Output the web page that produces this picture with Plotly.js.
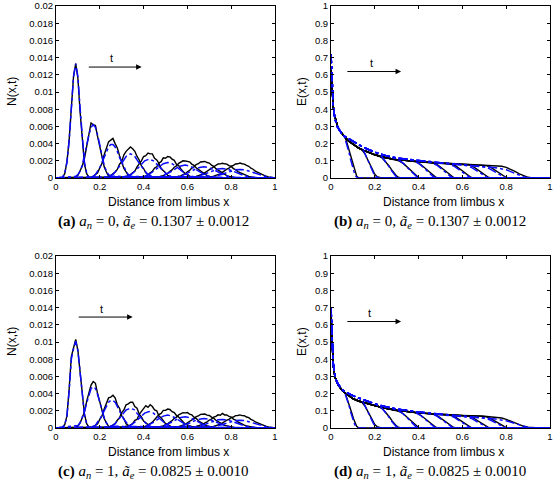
<!DOCTYPE html>
<html><head><meta charset="utf-8">
<script src="https://cdn.plot.ly/plotly-3.0.1.min.js"></script>
<style>html,body{margin:0;padding:0;background:#fff}#chart{width:553px;height:491px}</style>
</head><body><div id="chart"></div>
<script>
// ---------- tick labels ----------
const X_TICKS = [0, 0.2, 0.4, 0.6, 0.8, 1];
const X_TICKTEXT = ["0", "0.2", "0.4", "0.6", "0.8", "1"];
const N_TICKS = [0, 0.002, 0.004, 0.006, 0.008, 0.01, 0.012, 0.014, 0.016, 0.018, 0.02];
const N_TICKTEXT = ["0", "0.002", "0.004", "0.006", "0.008", "0.01", "0.012", "0.014", "0.016", "0.018", "0.02"];
const E_TICKS = [0, 0.1, 0.2, 0.3, 0.4, 0.5, 0.6, 0.7, 0.8, 0.9, 1];
const E_TICKTEXT = ["0", "0.1", "0.2", "0.3", "0.4", "0.5", "0.6", "0.7", "0.8", "0.9", "1"];

// ---------- N(x,t) curves: start x and sampling step of each curve ----------
const N_BLACK_X0 = [0.03, 0.09, 0.16, 0.23, 0.30, 0.38, 0.45, 0.53, 0.61, 0.69];
const N_BLACK_DX = 0.01;
const N_BLUE_X0 = [0.03, 0.09, 0.16, 0.23, 0.305, 0.37, 0.45, 0.535, 0.60, 0.68];
const N_BLUE_DX = [0.01, 0.01, 0.01, 0.01, 0.02, 0.02, 0.02, 0.02, 0.02, 0.02];

// panel (a): a_n = 0, stochastic (black)
const A_N_BLACK = [
  [0.0001,0.0005,0.0019,0.0044,0.0080,0.0118,0.0133,0.0116,0.0077,0.0042,0.0016,0.0005,0.0001],
  [0.0001,0.0003,0.0008,0.0014,0.0023,0.0036,0.0052,0.0064,0.0062,0.0061,0.0048,0.0036,0.0023,0.0013,0.0007,0.0002,0.0001],
  [0.0001,0.0002,0.0004,0.0006,0.0012,0.0017,0.0027,0.0034,0.0042,0.0044,0.0046,0.0040,0.0035,0.0026,0.0019,0.0011,0.0007,0.0003,0.0002,0.0001],
  [0.0000,0.0001,0.0003,0.0004,0.0007,0.0010,0.0016,0.0019,0.0027,0.0031,0.0033,0.0036,0.0034,0.0031,0.0025,0.0021,0.0014,0.0011,0.0006,0.0004,0.0002,0.0001,0.0000],
  [0,0.0001,0.0002,0.0002,0.0004,0.0007,0.0008,0.0013,0.0016,0.0020,0.0025,0.0026,0.0029,0.0028,0.0028,0.0023,0.0021,0.0017,0.0011,0.0009,0.0006,0.0003,0.0002,0.0001,0.0001,0],
  [0.00005,0.0001,0.00012,0.00026,0.00038,0.0006,0.00078,0.00115,0.0013,0.00175,0.0019,0.00235,0.0023,0.0025,0.00245,0.0022,0.00205,0.0016,0.00145,0.00105,0.0008,0.0005,0.00042,0.00022,0.00015,0.00007,0.00004],
  [0.00003,0.00008,0.0001,0.0002,0.00026,0.00042,0.00054,0.00078,0.00094,0.00125,0.0014,0.0017,0.00182,0.002,0.00197,0.0019,0.00188,0.00162,0.00148,0.00118,0.001,0.00072,0.00058,0.00038,0.00028,0.00017,0.00012,0.00006,0.00004],
  [0.00004,0.00008,0.0001,0.0002,0.00025,0.0004,0.0005,0.00073,0.00088,0.00115,0.0013,0.00156,0.00166,0.00186,0.00185,0.00192,0.0018,0.00174,0.0015,0.00135,0.00108,0.00092,0.00068,0.00054,0.00036,0.00028,0.00017,0.00013,0.00006,0.00004],
  [0.00004,0.00008,0.0001,0.00018,0.00024,0.00037,0.00045,0.00063,0.00076,0.00099,0.0011,0.00135,0.00144,0.00163,0.00164,0.00172,0.00165,0.00162,0.00144,0.00135,0.0011,0.00099,0.00075,0.00063,0.00045,0.00036,0.00024,0.00018,0.00011,0.00008,0.00004],
  [0.00005,0.0001,0.00013,0.00021,0.00027,0.0004,0.00049,0.00068,0.0008,0.00103,0.00114,0.00137,0.00146,0.00163,0.00165,0.00174,0.00166,0.00162,0.00146,0.00136,0.00114,0.00102,0.0008,0.00067,0.0005,0.00039,0.00027,0.0002,0.00013,0.00009,0.00005]
];
// panel (a): continuum model (blue)
const A_N_BLUE = [
  [0.0001,0.0006,0.0018,0.0043,0.0081,0.0118,0.0133,0.0118,0.0081,0.0043,0.0018,0.0006,0.0001],
  [0.0002,0.0004,0.0008,0.0015,0.0025,0.0038,0.0050,0.0059,0.0062,0.0059,0.0050,0.0038,0.0025,0.0015,0.0008,0.0004,0.0002],
  [0.0001,0.0002,0.0004,0.0008,0.0012,0.0018,0.0024,0.0031,0.0036,0.0039,0.0039,0.0036,0.0031,0.0024,0.0018,0.0012,0.0008,0.0004,0.0002,0.0001],
  [0.0001,0.0001,0.0003,0.0004,0.0007,0.0010,0.0013,0.0017,0.0021,0.0025,0.0027,0.0028,0.0027,0.0025,0.0021,0.0017,0.0013,0.0010,0.0007,0.0004,0.0003,0.0001,0.0001],
  [0.00006,0.00019,0.00045,0.0009,0.00148,0.0020,0.0022,0.0020,0.00148,0.0009,0.00045,0.00019,0.00006],
  [0.00004,0.0001,0.00024,0.0005,0.00088,0.00131,0.00166,0.0018,0.00166,0.00131,0.00088,0.0005,0.00024,0.0001,0.00004],
  [0.00005,0.00013,0.00027,0.0005,0.00081,0.00114,0.0014,0.0015,0.0014,0.00114,0.00081,0.0005,0.00027,0.00013,0.00005],
  [0.00006,0.00014,0.00028,0.00048,0.00075,0.00102,0.00122,0.0013,0.00122,0.00102,0.00075,0.00048,0.00028,0.00014,0.00006],
  [0.00003,0.00007,0.00015,0.00027,0.00045,0.00067,0.00088,0.00104,0.0011,0.00104,0.00088,0.00067,0.00045,0.00027,0.00015,0.00007,0.00003],
  [0.00004,0.00008,0.00015,0.00027,0.00044,0.00063,0.00081,0.00095,0.001,0.00095,0.00081,0.00063,0.00044,0.00027,0.00015,0.00008,0.00004]
];
// panel (c): a_n = 1, stochastic (black)
const C_N_BLACK = [
  [0.0001,0.0004,0.0014,0.0045,0.0083,0.0093,0.0103,0.0090,0.0063,0.0036,0.0016,0.0005,0.0001],
  [0.0001,0.0002,0.0006,0.0012,0.0019,0.0031,0.0042,0.0050,0.0054,0.0052,0.0040,0.0031,0.0020,0.0011,0.0006,0.0002,0.0001],
  [0.0001,0.0001,0.0003,0.0005,0.0010,0.0014,0.0022,0.0028,0.0035,0.0036,0.0038,0.0035,0.0027,0.0023,0.0014,0.0011,0.0005,0.0003,0.0001,0.0001],
  [0.00003,0.0001,0.0002,0.0004,0.0005,0.0009,0.0012,0.0018,0.0021,0.0027,0.0028,0.0030,0.0030,0.0025,0.0023,0.0016,0.0013,0.0008,0.0006,0.0003,0.0002,0.0001,0.00003],
  [0,0.0001,0.0002,0.0002,0.0004,0.0005,0.0009,0.0010,0.0016,0.0019,0.0023,0.0026,0.0024,0.0027,0.0025,0.0021,0.0020,0.0014,0.0012,0.0008,0.0005,0.0004,0.0002,0.0001,0.0001,0],
  [0.00004,0.00008,0.0001,0.00023,0.00033,0.0005,0.00068,0.001,0.0012,0.00155,0.0017,0.00205,0.00205,0.0022,0.00215,0.0019,0.0018,0.00145,0.00127,0.00093,0.00072,0.00045,0.00036,0.0002,0.00013,0.00006,0.00004],
  [0.00003,0.00007,0.00009,0.00018,0.00023,0.00038,0.00048,0.0007,0.00085,0.00112,0.00126,0.00154,0.00163,0.00178,0.00176,0.0018,0.00162,0.00153,0.00126,0.00112,0.00084,0.0007,0.00048,0.00037,0.00023,0.00017,0.00009,0.00007,0.00003],
  [0.00003,0.00007,0.00009,0.00016,0.00022,0.00034,0.00042,0.00061,0.00074,0.00096,0.00108,0.00132,0.0014,0.00158,0.00156,0.00162,0.0015,0.00146,0.00126,0.00114,0.0009,0.00078,0.00057,0.00045,0.0003,0.00024,0.00014,0.00011,0.00005,0.00004],
  [0.00004,0.00008,0.0001,0.00017,0.00023,0.00035,0.00042,0.00059,0.00071,0.00093,0.00104,0.00127,0.00135,0.00153,0.00148,0.0017,0.00152,0.00153,0.00134,0.00127,0.00104,0.00093,0.0007,0.00059,0.00042,0.00034,0.00023,0.00017,0.0001,0.00008,0.00004],
  [0.00004,0.00009,0.00011,0.00019,0.00024,0.00035,0.00043,0.0006,0.0007,0.00091,0.001,0.00121,0.00128,0.00144,0.00145,0.00152,0.00144,0.00143,0.00128,0.0012,0.001,0.0009,0.0007,0.00059,0.00044,0.00034,0.00024,0.00018,0.00011,0.00008,0.00004]
];
// panel (c): continuum model (blue)
const C_N_BLUE = [
  [0.0001,0.0004,0.0014,0.0043,0.0080,0.0092,0.0101,0.0090,0.0062,0.0035,0.0015,0.0005,0.0001],
  [0.0002,0.0003,0.0006,0.0012,0.0019,0.0029,0.0039,0.0046,0.0048,0.0046,0.0039,0.0029,0.0019,0.0012,0.0006,0.0003,0.0002],
  [0.0001,0.0002,0.0003,0.0007,0.0010,0.0015,0.0020,0.0025,0.0030,0.0032,0.0032,0.0030,0.0025,0.0020,0.0015,0.0010,0.0007,0.0003,0.0002,0.0001],
  [0.0001,0.0001,0.0002,0.0003,0.0005,0.0008,0.0011,0.0014,0.0017,0.0021,0.0022,0.0023,0.0022,0.0021,0.0017,0.0014,0.0011,0.0008,0.0005,0.0003,0.0002,0.0001,0.0001],
  [0.00005,0.00016,0.00039,0.00078,0.00128,0.00173,0.0019,0.00173,0.00128,0.00078,0.00039,0.00016,0.00005],
  [0.00003,0.00008,0.0002,0.00042,0.00073,0.00109,0.00138,0.0015,0.00138,0.00109,0.00073,0.00042,0.0002,0.00008,0.00003],
  [0.00004,0.00011,0.00023,0.00043,0.0007,0.00099,0.00121,0.0013,0.00121,0.00099,0.0007,0.00043,0.00023,0.00011,0.00004],
  [0.00005,0.00012,0.00024,0.00041,0.00063,0.00086,0.00103,0.0011,0.00103,0.00086,0.00063,0.00041,0.00024,0.00012,0.00005],
  [0.00003,0.00006,0.00014,0.00025,0.00041,0.00061,0.0008,0.00095,0.001,0.00095,0.0008,0.00061,0.00041,0.00025,0.00014,0.00006,0.00003],
  [0.00004,0.00007,0.00014,0.00024,0.0004,0.00057,0.00073,0.00086,0.0009,0.00086,0.00073,0.00057,0.0004,0.00024,0.00014,0.00007,0.00004]
];

// ---------- E(x,t): common profile behind the fronts + the 9 earlier fronts ----------
const B_E_BLACK_ENV_X = [0,0.005,0.01,0.015,0.02,0.03,0.04,0.05,0.065,0.08,0.1,0.125,0.15,0.2,0.25,0.3,0.4,0.5,0.6,0.7,0.75,0.78,0.8,0.82,0.84,0.86,0.88,0.9,0.92,0.95,1.0];
const B_E_BLACK_ENV_Y = [0.63,0.5,0.42,0.37,0.34,0.3,0.275,0.258,0.235,0.215,0.195,0.175,0.16,0.135,0.118,0.107,0.095,0.087,0.08,0.075,0.071,0.068,0.062,0.052,0.038,0.024,0.012,0.004,0.001,0,0];
const B_E_BLUE_ENV_X = [0,0.005,0.01,0.015,0.02,0.03,0.04,0.05,0.065,0.08,0.1,0.125,0.15,0.2,0.25,0.3,0.4,0.5,0.6,0.7,0.75,0.8,0.82,0.84,0.86,0.88,0.9,0.95,1.0];
const B_E_BLUE_ENV_Y = [0.72,0.54,0.43,0.37,0.335,0.295,0.272,0.256,0.24,0.228,0.212,0.193,0.177,0.15,0.13,0.116,0.1,0.088,0.077,0.066,0.06,0.048,0.038,0.026,0.015,0.006,0.002,0,0];
const D_E_BLACK_ENV_X = [0,0.005,0.01,0.015,0.02,0.03,0.04,0.05,0.065,0.08,0.1,0.125,0.15,0.2,0.25,0.3,0.4,0.5,0.6,0.7,0.75,0.78,0.8,0.82,0.84,0.86,0.88,0.9,0.92,0.95,1.0];
const D_E_BLACK_ENV_Y = [0.66,0.46,0.37,0.32,0.29,0.257,0.235,0.22,0.203,0.187,0.17,0.157,0.147,0.13,0.115,0.103,0.088,0.079,0.073,0.068,0.064,0.058,0.05,0.04,0.028,0.018,0.01,0.005,0.002,0,0];
const D_E_BLUE_ENV_X = [0,0.005,0.01,0.015,0.02,0.03,0.04,0.05,0.065,0.08,0.1,0.125,0.15,0.2,0.25,0.3,0.4,0.5,0.6,0.7,0.75,0.8,0.82,0.84,0.86,0.88,0.9,0.95,1.0];
const D_E_BLUE_ENV_Y = [0.70,0.48,0.38,0.325,0.293,0.26,0.238,0.224,0.21,0.2,0.188,0.175,0.163,0.14,0.123,0.11,0.093,0.08,0.069,0.059,0.053,0.042,0.034,0.024,0.015,0.008,0.003,0,0];

const E_BLACK_FRONT_X = [
  [0.065,0.075,0.087,0.095,0.102,0.11,0.117,0.125,0.135],
  [0.14,0.155,0.17,0.18,0.19,0.2,0.21,0.22,0.23],
  [0.215,0.235,0.25,0.265,0.28,0.29,0.3,0.31,0.32],
  [0.29,0.31,0.33,0.35,0.365,0.38,0.39,0.4,0.41],
  [0.37,0.39,0.41,0.43,0.445,0.46,0.47,0.48,0.49],
  [0.45,0.47,0.49,0.51,0.525,0.54,0.55,0.56,0.575],
  [0.53,0.55,0.57,0.59,0.605,0.62,0.63,0.64,0.655],
  [0.61,0.63,0.65,0.67,0.685,0.7,0.71,0.72,0.735],
  [0.69,0.71,0.73,0.75,0.765,0.78,0.79,0.8,0.815]
];
const E_BLUE_FRONT_X = [
  [0.06,0.07,0.082,0.09,0.097,0.105,0.112,0.12,0.13],
  [0.135,0.15,0.165,0.175,0.185,0.195,0.205,0.215,0.225],
  [0.21,0.23,0.245,0.26,0.275,0.285,0.295,0.305,0.315],
  [0.285,0.305,0.325,0.345,0.36,0.375,0.385,0.395,0.405],
  [0.365,0.385,0.405,0.425,0.44,0.455,0.465,0.475,0.485],
  [0.445,0.465,0.485,0.505,0.52,0.535,0.545,0.555,0.57],
  [0.525,0.545,0.565,0.585,0.6,0.615,0.625,0.635,0.65],
  [0.605,0.625,0.645,0.665,0.68,0.695,0.705,0.715,0.73],
  [0.685,0.705,0.725,0.745,0.76,0.775,0.785,0.795,0.81]
];
const B_E_BLACK_FRONT_Y = [
  [0.235,0.195,0.143,0.1,0.066,0.035,0.012,0.002,0],
  [0.165,0.14,0.1,0.072,0.045,0.022,0.008,0.002,0],
  [0.13,0.115,0.095,0.07,0.042,0.025,0.011,0.003,0],
  [0.108,0.1,0.085,0.062,0.042,0.022,0.011,0.003,0],
  [0.098,0.092,0.078,0.056,0.038,0.02,0.01,0.003,0],
  [0.091,0.086,0.074,0.054,0.036,0.019,0.01,0.003,0],
  [0.085,0.08,0.07,0.051,0.034,0.018,0.009,0.003,0],
  [0.08,0.076,0.066,0.048,0.032,0.017,0.009,0.003,0],
  [0.076,0.072,0.062,0.045,0.03,0.016,0.008,0.003,0]
];
const B_E_BLUE_FRONT_Y = [
  [0.245,0.205,0.15,0.105,0.07,0.037,0.013,0.002,0],
  [0.187,0.157,0.113,0.081,0.05,0.025,0.009,0.002,0],
  [0.146,0.127,0.104,0.076,0.046,0.027,0.012,0.003,0],
  [0.12,0.109,0.091,0.066,0.044,0.024,0.011,0.003,0],
  [0.105,0.096,0.081,0.058,0.039,0.02,0.01,0.003,0],
  [0.094,0.086,0.073,0.053,0.035,0.018,0.009,0.003,0],
  [0.085,0.078,0.066,0.048,0.031,0.016,0.008,0.003,0],
  [0.076,0.07,0.059,0.043,0.028,0.015,0.008,0.002,0],
  [0.068,0.063,0.053,0.039,0.026,0.014,0.007,0.002,0]
];
const D_E_BLACK_FRONT_Y = [
  [0.203,0.168,0.124,0.087,0.057,0.03,0.01,0.002,0],
  [0.151,0.128,0.092,0.066,0.041,0.02,0.008,0.002,0],
  [0.125,0.111,0.091,0.067,0.04,0.024,0.011,0.003,0],
  [0.105,0.097,0.083,0.06,0.041,0.021,0.011,0.003,0],
  [0.093,0.087,0.074,0.054,0.036,0.019,0.009,0.003,0],
  [0.084,0.079,0.067,0.049,0.033,0.018,0.008,0.003,0],
  [0.077,0.073,0.062,0.045,0.03,0.016,0.008,0.002,0],
  [0.073,0.068,0.058,0.042,0.028,0.015,0.007,0.002,0],
  [0.069,0.065,0.055,0.04,0.027,0.014,0.007,0.002,0]
];
const D_E_BLUE_FRONT_Y = [
  [0.215,0.18,0.132,0.092,0.061,0.032,0.011,0.002,0],
  [0.17,0.143,0.103,0.074,0.046,0.023,0.009,0.002,0],
  [0.137,0.12,0.098,0.072,0.043,0.026,0.012,0.003,0],
  [0.114,0.104,0.087,0.063,0.042,0.023,0.011,0.003,0],
  [0.099,0.091,0.077,0.055,0.037,0.02,0.01,0.003,0],
  [0.087,0.08,0.068,0.049,0.033,0.017,0.009,0.003,0],
  [0.077,0.071,0.06,0.044,0.029,0.015,0.008,0.002,0],
  [0.068,0.063,0.053,0.039,0.026,0.014,0.007,0.002,0],
  [0.06,0.056,0.048,0.035,0.023,0.012,0.006,0.002,0]
];

// ---------- build traces ----------
const BLACK = {color:'#000000', width:1.4};
const BLUE = {color:'#0a0aff', width:1.5, dash:'dashdot'};

function nTraces(x0s, dxs, ys, xa, ya, line) {
  return ys.map((arr, k) => {
    const dx = Array.isArray(dxs) ? dxs[k] : dxs;
    const xs = [0], yy = [0];
    arr.forEach((v, i) => { xs.push(+(x0s[k] + i * dx).toFixed(4)); yy.push(v); });
    xs.push(1); yy.push(0);
    return {type:'scatter', mode:'lines', x:xs, y:yy, xaxis:xa, yaxis:ya, line:line, hoverinfo:'skip', showlegend:false};
  });
}
function eTraces(envX, envY, frontX, frontY, xa, ya, line) {
  const out = frontY.map((fy, k) => {
    const fx = frontX[k];
    const xs = [], yy = [];
    envX.forEach((x, i) => { if (x < fx[0]) { xs.push(x); yy.push(envY[i]); } });
    fx.forEach((x, i) => { xs.push(x); yy.push(fy[i]); });
    xs.push(1); yy.push(0);
    return {type:'scatter', mode:'lines', x:xs, y:yy, xaxis:xa, yaxis:ya, line:line, hoverinfo:'skip', showlegend:false};
  });
  out.push({type:'scatter', mode:'lines', x:envX, y:envY, xaxis:xa, yaxis:ya, line:line, hoverinfo:'skip', showlegend:false});
  return out;
}

const data = [].concat(
  nTraces(N_BLACK_X0, N_BLACK_DX, A_N_BLACK, 'x', 'y', BLACK),
  nTraces(N_BLUE_X0, N_BLUE_DX, A_N_BLUE, 'x', 'y', BLUE),
  eTraces(B_E_BLACK_ENV_X, B_E_BLACK_ENV_Y, E_BLACK_FRONT_X, B_E_BLACK_FRONT_Y, 'x2', 'y2', BLACK),
  eTraces(B_E_BLUE_ENV_X, B_E_BLUE_ENV_Y, E_BLUE_FRONT_X, B_E_BLUE_FRONT_Y, 'x2', 'y2', BLUE),
  nTraces(N_BLACK_X0, N_BLACK_DX, C_N_BLACK, 'x3', 'y3', BLACK),
  nTraces(N_BLUE_X0, N_BLUE_DX, C_N_BLUE, 'x3', 'y3', BLUE),
  eTraces(D_E_BLACK_ENV_X, D_E_BLACK_ENV_Y, E_BLACK_FRONT_X, D_E_BLACK_FRONT_Y, 'x4', 'y4', BLACK),
  eTraces(D_E_BLUE_ENV_X, D_E_BLUE_ENV_Y, E_BLUE_FRONT_X, D_E_BLUE_FRONT_Y, 'x4', 'y4', BLUE)
);

// ---------- layout ----------
const W = 553, H = 491;
const SANS = 'Liberation Sans, Arial, Helvetica, sans-serif';
const SERIF = 'Liberation Serif, Times New Roman, serif';
function axis(extra) {
  return Object.assign({
    showline:true, mirror:'ticks', linecolor:'#000', linewidth:1,
    ticks:'inside', ticklen:3, tickwidth:1, tickcolor:'#000',
    showgrid:false, zeroline:false, fixedrange:true,
    tickfont:{family:SANS, size:9.5, color:'#000'}
  }, extra);
}
const DX1 = [56/W, 275/W], DX2 = [331/W, 550/W];
const DYT = [1-178/H, 1-6/H], DYB = [1-428/H, 1-256/H];
function xa(dom, anchor) { return axis({domain:dom, anchor:anchor, range:[0,1], tickvals:X_TICKS, ticktext:X_TICKTEXT}); }
function ya(dom, anchor, isN) {
  return axis({domain:dom, anchor:anchor, range:isN?[0,0.02]:[0,1],
    tickvals:isN?N_TICKS:E_TICKS, ticktext:isN?N_TICKTEXT:E_TICKTEXT});
}

function ann(text, px, py, opts) {
  return Object.assign({text:text, xref:'paper', yref:'paper', x:px/W, y:1-py/H,
    xanchor:'center', yanchor:'middle', showarrow:false,
    font:{family:SANS, size:12, color:'#000'}}, opts || {});
}
function arrow(xr, yr, x0, x1, y) {
  return {xref:xr, yref:yr, axref:xr, ayref:yr, x:x1, y:y, ax:x0, ay:y, text:'',
    showarrow:true, arrowhead:2, arrowsize:1.1, arrowwidth:1, arrowcolor:'#000'};
}
function tlabel(xr, yr, x, y) {
  return {xref:xr, yref:yr, x:x, y:y, text:'t', showarrow:false,
    font:{family:SANS, size:11, color:'#000'}};
}
const CAP = {font:{family:SERIF, size:15, color:'#000'}};
const annotations = [
  ann('N(x,t)', 12, 92, {textangle:-90}),
  ann('E(x,t)', 302, 92, {textangle:-90}),
  ann('N(x,t)', 12, 342, {textangle:-90}),
  ann('E(x,t)', 302, 342, {textangle:-90}),
  ann('Distance from limbus x', 168, 202),
  ann('Distance from limbus x', 443, 202),
  ann('Distance from limbus x', 168, 452),
  ann('Distance from limbus x', 443, 452),
  ann('<b>(a)</b> <i>a</i><sub><i>n</i></sub> = 0, <i>ã</i><sub><i>e</i></sub> = 0.1307 ± 0.0012', 153, 222, CAP),
  ann('<b>(b)</b> <i>a</i><sub><i>n</i></sub> = 0, <i>ã</i><sub><i>e</i></sub> = 0.1307 ± 0.0012', 430, 222, CAP),
  ann('<b>(c)</b> <i>a</i><sub><i>n</i></sub> = 1, <i>ã</i><sub><i>e</i></sub> = 0.0825 ± 0.0010', 153, 472, CAP),
  ann('<b>(d)</b> <i>a</i><sub><i>n</i></sub> = 1, <i>ã</i><sub><i>e</i></sub> = 0.0825 ± 0.0010', 430, 472, CAP),
  arrow('x', 'y', 0.143, 0.391, 0.0129),
  tlabel('x', 'y', 0.254, 0.0139),
  arrow('x2', 'y2', 0.068, 0.32, 0.619),
  tlabel('x2', 'y2', 0.183, 0.668),
  arrow('x3', 'y3', 0.097, 0.35, 0.0129),
  tlabel('x3', 'y3', 0.209, 0.0138),
  arrow('x4', 'y4', 0.068, 0.32, 0.619),
  tlabel('x4', 'y4', 0.175, 0.668)
];

const layout = {
  width:W, height:H, autosize:false,
  margin:{l:0, r:0, t:0, b:0, pad:0},
  paper_bgcolor:'#fff', plot_bgcolor:'#fff', showlegend:false,
  xaxis:xa(DX1, 'y'), yaxis:ya(DYT, 'x', true),
  xaxis2:xa(DX2, 'y2'), yaxis2:ya(DYT, 'x2', false),
  xaxis3:xa(DX1, 'y3'), yaxis3:ya(DYB, 'x3', true),
  xaxis4:xa(DX2, 'y4'), yaxis4:ya(DYB, 'x4', false),
  annotations:annotations
};
Plotly.newPlot('chart', data, layout, {displayModeBar:false, staticPlot:true});
</script></body></html>
